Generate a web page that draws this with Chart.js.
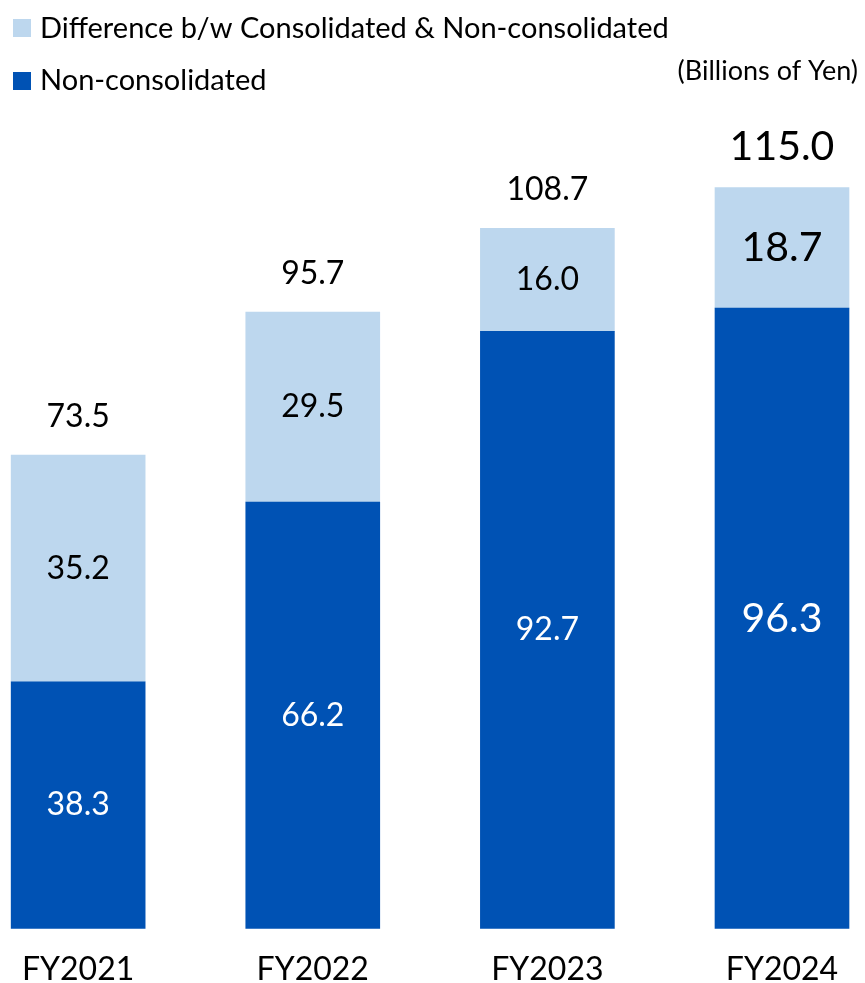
<!DOCTYPE html>
<html>
<head>
<meta charset="utf-8">
<script src="https://cdn.jsdelivr.net/npm/chart.js@4.4.1/dist/chart.umd.min.js"></script>
<style>
  body { margin: 0; background: #fff; }
  #wrap { width: 865px; height: 983px; }
</style>
</head>
<body>
<div id="wrap"><canvas id="myChart" width="865" height="983"></canvas></div>
<script>
const labels = ['FY2021', 'FY2022', 'FY2023', 'FY2024']
const nonConsolidated = [38.3, 66.2, 92.7, 96.3]
const difference = [35.2, 29.5, 16.0, 18.7]
const totals = [73.5, 95.7, 108.7, 115.0]

const DARK = '#0052B4'
const LIGHT = '#BDD7EE'
const FONT = 'Lato'

// value labels, legend and unit note
const labelPlugin = {
    id: 'labelPlugin',
    afterDatasetsDraw(chart) {
        const c = chart.ctx
        c.save()
        c.textAlign = 'center'
        chart.data.datasets.forEach((ds, di) => {
            const meta = chart.getDatasetMeta(di)
            meta.data.forEach((bar, i) => {
                const big = i === labels.length - 1
                c.font = (big ? 41 : 32) + 'px ' + FONT
                c.fillStyle = di === 0 ? '#fff' : '#000'
                c.textBaseline = 'middle'
                c.fillText(ds.data[i].toFixed(1), bar.x, (bar.y + bar.base) / 2)
            })
        })
        const top = chart.getDatasetMeta(1)
        top.data.forEach((bar, i) => {
            const big = i === labels.length - 1
            c.font = (big ? 41 : 32) + 'px ' + FONT
            c.fillStyle = '#000'
            c.textBaseline = 'alphabetic'
            c.fillText(totals[i].toFixed(1), bar.x, bar.y - 28)
        })

        // legend
        c.textAlign = 'left'
        c.textBaseline = 'middle'
        c.font = '29px ' + FONT
        c.fillStyle = LIGHT
        c.fillRect(13, 19, 18, 18)
        c.fillStyle = '#000'
        c.fillText(chart.data.datasets[1].label, 40, 29)
        c.fillStyle = DARK
        c.fillRect(13, 72, 18, 18)
        c.fillStyle = '#000'
        c.fillText(chart.data.datasets[0].label, 40, 81)

        c.textAlign = 'right'
        c.font = '27px ' + FONT
        c.fillText('(Billions of Yen)', 858, 71)
        c.restore()
    }
}

const ctx = document.getElementById('myChart')
let config = {
    type: 'bar',
    data: {
        labels: labels,
        datasets: [{
            label: 'Non-consolidated',
            data: nonConsolidated,
            backgroundColor: DARK,
            barThickness: 134,
            clip: false,
        }, {
            label: 'Difference b/w Consolidated & Non-consolidated',
            data: difference,
            backgroundColor: LIGHT,
            barThickness: 134,
            clip: false,
        }]
    },
    options: {
        responsive: false,
        animation: false,
        layout: {
            padding: { left: 77, right: 83, top: 91, bottom: 0 }
        },
        plugins: {
            legend: { display: false },
            tooltip: { enabled: false },
        },
        scales: {
            x: {
                stacked: true,
                offset: false,
                grid: { display: false, drawTicks: false },
                border: { display: false },
                ticks: {
                    color: '#000',
                    padding: 22,
                    font: { family: FONT, size: 32 },
                },
                afterFit(scale) { scale.height = 54.5 },
            },
            y: {
                stacked: true,
                display: false,
                min: 0,
                max: 130,
            },
        },
    },
    plugins: [labelPlugin]
}

let newChart = new Chart(ctx, config)
</script>
</body>
</html>
